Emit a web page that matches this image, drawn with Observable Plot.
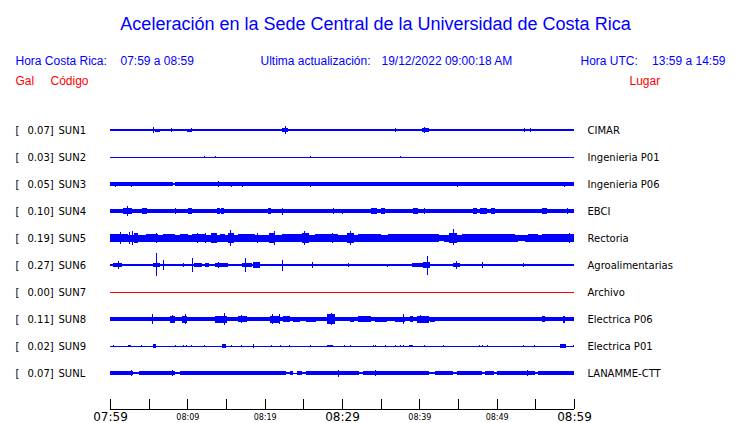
<!DOCTYPE html>
<html><head><meta charset="utf-8">
<script src="https://cdn.jsdelivr.net/npm/d3@7"></script>
<script src="https://cdn.jsdelivr.net/npm/@observablehq/plot@0.6"></script>
<style>body{margin:0;background:#fff}</style>
</head><body><div id="chart"></div>
<script>
// ---------- data ----------
const titleText = "Aceleración en la Sede Central de la Universidad de Costa Rica";
const headerLocal = ["Hora Costa Rica:", "07:59 a 08:59"];
const headerUpdate = ["Ultima actualización:", "19/12/2022 09:00:18 AM"];
const headerUtc = ["Hora UTC:", "13:59 a 14:59"];
const colHeadsLeft = ["Gal", "Código"];
const colHeadRight = "Lugar";

const codes = ["SUN1","SUN2","SUN3","SUN4","SUN5","SUN6","SUN7","SUN8","SUN9","SUNL"];
const places = ["CIMAR","Ingenieria P01","Ingenieria P06","EBCI","Rectoria","Agroalimentarias","Archivo","Electrica P06","Electrica P01","LANAMME-CTT"];
const peaks = ["0.07","0.03","0.05","0.10","0.19","0.27","0.00","0.11","0.02","0.07"];
const active = [true,true,true,true,true,true,false,true,true,true];

// minutes after 07:59
const tickMinutes = [0,5,10,15,20,25,30,35,40,45,50,55,60];
const majorTicks = [[0,"07:59"],[30,"08:29"],[60,"08:59"]];
const minorTicks = [[10,"08:09"],[20,"08:19"],[40,"08:39"],[50,"08:49"]];

// trace envelopes: base half-amplitude, bursts [m1,m2,amp], quiet gaps [m1,m2,amp], spikes [m,up,down?]
const base = [0.6,0.5,1.8,1.8,3.5,0.6,0.5,2.0,0.5,1.7];
const bursts = [
  [[1.3,1.9,1.3],[2.35,2.5,1],[4.35,4.5,0.8],[5.8,6.5,1.5],[6.75,6.9,1.3],[7.1,7.5,1.3],[8.2,8.4,1.3],[9.25,9.4,1.3],[10.0,10.6,1.5],[11.15,11.3,1],[11.55,11.85,1.3],[13.05,13.2,0.8],[13.7,14.4,1.3],[15.6,15.9,1.3],[16.75,16.9,0.8],[17.45,17.6,1],[17.95,18.1,1],[18.25,18.4,1],[19.05,19.2,1.3],[22.2,23.0,2.3],[23.65,23.8,1],[24.35,24.5,1],[26.65,26.8,0.8],[27.15,27.3,1],[27.8,28.1,1.3],[30.75,30.9,1],[32.6,33.4,1.3],[33.75,33.9,1],[34.35,34.5,1],[35.55,35.7,1.3],[36.25,36.4,1],[37.75,37.9,1],[38.35,38.5,1.3],[39.1,39.9,1.3],[40.4,41.2,2],[42.65,42.8,1],[44.45,44.6,1.3],[46.05,46.2,0.8],[46.55,46.7,1],[47.05,47.2,1],[47.55,47.7,1],[48.35,48.5,1],[48.85,49.0,1],[51.9,52.2,1],[52.8,55.0,1.3],[56.15,56.3,1],[57.8,58.1,1.3],[59.05,59.2,1],[59.85,60,1.3]],
  [],
  [[0,0.7,2.1]],
  [[0,0.7,2.3],[1.7,2.8,3],[3.4,3.5,2.2],[4.2,4.75,2.7],[5.85,5.95,2.2],[6.25,6.75,2.2],[7.8,7.9,2],[10.1,10.6,3],[11.45,11.55,2],[12.3,13.1,2.2],[13.9,14.2,3.3],[14.4,14.7,2.7],[15.35,15.45,2.2],[16.45,16.55,2],[17.1,17.5,2.3],[18.95,19.05,2.2],[19.45,19.55,2.2],[20.4,20.8,2.7],[22.55,22.65,2.3],[23.35,23.45,2],[24.05,24.15,2],[26.15,26.25,2],[27.35,27.45,2],[27.75,27.85,2],[30.4,30.55,2.2],[30.95,31.05,2],[31.85,31.95,2],[33.8,34.5,3.3],[35.0,35.5,2.7],[37.3,37.7,2.3],[38.1,38.4,2.3],[39.2,39.8,2.7],[44.7,45.0,2.3],[45.95,46.05,2],[46.9,47.5,3],[47.8,48.7,3.3],[49.3,49.8,2.7],[50.55,50.65,2],[54.05,54.15,2],[55.8,56.5,2.7],[56.95,57.05,2.2],[57.9,58.3,2.3],[59.3,59.4,2.2]],
  [[0,2.3,4.3],[3.1,3.6,5],[4.7,6.2,4],[6.9,8.4,4],[9.0,10.1,3.8],[10.6,12.3,4],[13.1,13.8,5],[14.2,14.9,4],[15.3,16.0,5],[16.6,18.7,4],[20.5,21.3,4.7],[22.2,24.8,4],[24.8,25.7,5.3],[26.5,29.5,4],[30.6,31.5,5],[32.1,35.1,4],[36,42.6,3.8],[43.9,44.9,5],[45.5,52.4,3.8],[54.1,55.3,3.8],[55.8,60,4.3]],
  [[0.4,1.5,1.7],[1.7,3.0,1.3],[3.15,5.4,1.3],[5.6,6.5,2],[7.3,9.1,1.3],[9.7,10.3,1.3],[10.8,11.9,1.7],[12.3,12.7,2],[13.6,15.3,1.7],[15.7,17.0,1.3],[17.1,18.3,2.3],[18.5,19.4,2.7],[20.0,21.8,1.3],[22.6,23.9,1.3],[24.5,25.6,1.3],[26.2,27.5,1.3],[28.9,30.4,1.3],[31.3,32.6,1.3],[33.4,35.1,1.3],[36.9,38.6,1.3],[39.0,40.5,1.7],[40.5,41.4,2.7],[42.0,43.8,1.3],[44.4,45.3,1.7],[45.7,47.6,1.3],[48.3,51.5,1.3],[52.3,55.8,1.3],[56.2,58.3,1.3],[58.8,59.7,1.3]],
  [],
  [[0.65,1.7,2.3],[2.15,2.8,2.3],[3.45,4.1,2.3],[4.55,5.0,2.3],[5.8,7.1,2.3],[7.8,8.4,3.5],[9.3,10.0,3.5],[10.4,11.2,2.3],[11.9,12.3,2.3],[12.9,13.1,2.3],[13.6,15.1,3.5],[15.5,16.0,2.3],[16.6,17.7,3],[18.3,19.2,2.3],[19.6,20.5,2.3],[20.7,22.0,3.5],[22.4,23.3,3],[23.7,24.6,2.5],[25.4,26.7,2.5],[28.0,29.1,5],[30.2,30.6,2.3],[31.0,31.5,2.5],[32.1,33.8,2.7],[34.3,35.8,2.5],[36.9,38.2,2.5],[38.8,39.2,2.7],[39.7,41.2,3.5],[41.4,42.0,2.5],[42.9,45.0,2.3],[46.3,47.2,2.3],[47.8,48.7,2.3],[50.2,52.4,2.3],[53.0,55.4,2.3],[55.8,56.2,3],[57.8,58.4,2.3],[58.6,58.8,3.5],[59.5,60,2.3]],
  [[2.3,2.7,1.3],[5.5,5.85,1.7],[14.5,15.0,1.7],[28.1,28.9,1.3],[38.6,39.0,1.3],[58.2,59.0,1.7]],
  [[0,2.6,2]]
];
const gaps = [
  [],[],[[8.2,8.35,0.6]],[],[[42.6,43.2,2.7],[52.8,53.7,2.7]],[],[],[],[],
  [[3.0,3.7,0.6],[8.4,9.0,0.8],[22.8,23.3,0.8],[23.7,24.2,0.5],[24.8,25.3,0.8],[32.2,32.7,0.7],[41.2,42.0,0.7],[44.4,44.9,0.7],[48.1,48.5,0.7],[49.7,50.1,0.7],[54.9,55.3,0.7]]
];
const spikes = [
  [[5.6,2.7],[7.85,2.3],[10.45,2.3],[22.6,4],[36.9,2.3],[40.6,2.7],[53.5,1.7],[54.3,1.7]],
  [[12.2,0.8],[13.6,1.3],[25.8,1.3],[37.5,1.3]],
  [[0.65,2.5],[2.7,2.5],[4.6,2.3],[14,2.8],[15.6,2.5],[17.1,2.5],[25.9,2.5],[44.9,2.5],[58.7,2.5]],
  [[2.2,4.7],[8.4,3.3],[10.35,3.3],[22.2,3.5],[28.9,3.3],[30,2.5],[40.6,2.7],[59.05,3]],
  [[1.3,5.7],[2.4,5.7],[2.9,7.3],[6.0,5],[11.2,5],[12.3,4.7],[15.5,7.7],[19.0,4.7],[21.2,6.7],[25.1,7.3],[28.7,4.7],[31.0,6.7],[44.3,9.3,7.3],[59.3,5]],
  [[1.0,4],[5.9,12.3,11.3],[6.9,5],[9.5,2],[10.6,7.3],[12.7,2],[14.0,3],[17.4,7.3],[22.2,5.5],[26.1,3],[30.8,2],[35.8,1.5],[41.05,8.7,9.7],[44.8,4],[48.15,3.3],[53.4,2.3]],
  [],
  [[5.4,4.7],[8.0,4],[9.7,5],[14.75,6],[17.0,4.3],[21.0,4.7],[21.8,4.7],[28.6,6],[37.85,4.7],[40.1,4.3]],
  [[0.4,1.3],[2.3,1.3],[2.6,1.3],[4.0,1.3],[5.5,1.7],[5.8,1.7],[8.4,1.3],[9.5,1.3],[9.8,1.3],[10.5,1.3],[12.2,1],[14.5,1.7],[14.9,1.7],[15.6,1.3],[17.0,1.3],[18.5,1.7],[20.8,1],[22.0,1.3],[23.2,1],[25.8,1.3],[28.1,1.3],[28.5,1.3],[30.2,1],[31.0,1],[34.0,1.3],[34.3,1],[35.6,1.3],[36.9,1],[37.5,1.3],[37.9,1.3],[38.6,1.3],[39.0,1.3],[40.6,1],[43.1,1],[47.7,1.3],[48.1,1],[48.7,1.3],[53.4,1.3],[54.8,1],[59.9,1]],
  [[2.7,3],[4.1,2.2],[8.0,3],[12.2,2.3],[13.6,2.2],[14.0,2.3],[15.4,2.3],[17.7,2],[29.5,3.5],[29.9,2],[31.0,2.3],[34.3,2.7],[35.4,2],[39.4,2],[44.2,2],[53.9,3.3],[54.1,2.2],[59.05,2]]
];

// ---------- build tables ----------
const ROW = 27; // amplitude units between station baselines
const BLUE = "#0000ff", RED = "#ff0000";
const rows = codes.map((c, i) => ({code: c, place: places[i], peak: peaks[i] + "]", c0: i * ROW, color: active[i] ? BLUE : RED}));

const rects = [];
codes.forEach((c, i) => {
  const c0 = i * ROW, col = rows[i].color;
  const g = gaps[i].slice().sort((a, b) => a[0] - b[0]);
  let start = 0;
  for (const [a, b, amp] of g) {
    rects.push({x1: start, x2: a, y1: c0 - base[i], y2: c0 + base[i], col});
    rects.push({x1: a, x2: b, y1: c0 - amp, y2: c0 + amp, col});
    start = b;
  }
  rects.push({x1: start, x2: 60, y1: c0 - base[i], y2: c0 + base[i], col});
  for (const [a, b, amp] of bursts[i]) rects.push({x1: a, x2: b, y1: c0 - amp, y2: c0 + amp, col});
});
const rules = [];
codes.forEach((c, i) => {
  const c0 = i * ROW;
  for (const s of spikes[i]) rules.push({x: s[0], y1: c0 - s[1], y2: c0 + (s.length > 2 ? s[2] : s[1]), col: rows[i].color});
});
const AXIS = 279; // axis line level in amplitude units

const font = "Liberation Sans, Arial, sans-serif";
const sans = "DejaVu Sans, sans-serif";

const plot = Plot.plot({
  width: 740, height: 423,
  marginLeft: 0, marginRight: 0, marginTop: 0, marginBottom: 0,
  style: {background: "#fff"},
  x: {domain: [0, 60], range: [110, 574], axis: null},
  y: {domain: [0, 9 * ROW], range: [130, 373], axis: null},
  marks: [
    Plot.rect(rects, {x1: "x1", x2: "x2", y1: "y1", y2: "y2", fill: d => d.col, shapeRendering: "crispEdges"}),
    Plot.ruleX(rules, {x: "x", y1: "y1", y2: "y2", stroke: d => d.col, strokeWidth: 1, shapeRendering: "crispEdges"}),
    // axis
    Plot.ruleY([AXIS], {x1: 0, x2: 60, stroke: "#000", strokeWidth: 1, shapeRendering: "crispEdges"}),
    Plot.ruleX(tickMinutes, {x: d => d, y1: AXIS - 10, y2: AXIS, stroke: "#000", shapeRendering: "crispEdges"}),
    Plot.text(majorTicks, {x: d => d[0], y: AXIS, text: d => d[1], dy: 11.5, lineAnchor: "bottom", fontSize: 12, fontFamily: sans, fill: "#000", letterSpacing: 1}),
    Plot.text(minorTicks, {x: d => d[0], y: AXIS, text: d => d[1], dy: 10, lineAnchor: "bottom", fontSize: 8, fontFamily: sans, fill: "#000"}),
    // station labels
    Plot.text(rows, {y: "c0", text: () => "[", frameAnchor: "left", dx: 15, textAnchor: "start", fontSize: 10, fontFamily: sans, fill: "#000"}),
    Plot.text(rows, {y: "c0", text: "peak", frameAnchor: "left", dx: 27, textAnchor: "start", fontSize: 10, fontFamily: sans, fill: "#000"}),
    Plot.text(rows, {y: "c0", text: "code", frameAnchor: "left", dx: 58, textAnchor: "start", fontSize: 10, fontFamily: sans, fill: "#000"}),
    Plot.text(rows, {y: "c0", text: "place", x: () => 60, dx: 13, textAnchor: "start", fontSize: 10, fontFamily: sans, fill: "#000"}),
    // headers
    Plot.text([titleText], {frameAnchor: "top-left", dx: 375, dy: 29, lineAnchor: "bottom", textAnchor: "middle", fontSize: 18, fontFamily: font, fill: BLUE}),
    Plot.text([headerLocal[0]], {frameAnchor: "top-left", dx: 15, dy: 64, lineAnchor: "bottom", textAnchor: "start", fontSize: 12, fontFamily: font, fill: BLUE}),
    Plot.text([headerLocal[1]], {frameAnchor: "top-left", dx: 120, dy: 64, lineAnchor: "bottom", textAnchor: "start", fontSize: 12, fontFamily: font, fill: BLUE}),
    Plot.text([headerUpdate[0]], {frameAnchor: "top-left", dx: 260, dy: 64, lineAnchor: "bottom", textAnchor: "start", fontSize: 12, fontFamily: font, fill: BLUE}),
    Plot.text([headerUpdate[1]], {frameAnchor: "top-left", dx: 381, dy: 64, lineAnchor: "bottom", textAnchor: "start", fontSize: 12, fontFamily: font, fill: BLUE}),
    Plot.text([headerUtc[0]], {frameAnchor: "top-left", dx: 580, dy: 64, lineAnchor: "bottom", textAnchor: "start", fontSize: 12, fontFamily: font, fill: BLUE}),
    Plot.text([headerUtc[1]], {frameAnchor: "top-left", dx: 725, dy: 64, lineAnchor: "bottom", textAnchor: "end", fontSize: 12, fontFamily: font, fill: BLUE}),
    Plot.text([colHeadsLeft[0]], {frameAnchor: "top-left", dx: 15, dy: 84, lineAnchor: "bottom", textAnchor: "start", fontSize: 12, fontFamily: font, fill: RED}),
    Plot.text([colHeadsLeft[1]], {frameAnchor: "top-left", dx: 50, dy: 84, lineAnchor: "bottom", textAnchor: "start", fontSize: 12, fontFamily: font, fill: RED}),
    Plot.text([colHeadRight], {frameAnchor: "top-left", dx: 629, dy: 84, lineAnchor: "bottom", textAnchor: "start", fontSize: 12, fontFamily: font, fill: RED})
  ]
});
document.getElementById("chart").append(plot);
</script>
</body></html>
